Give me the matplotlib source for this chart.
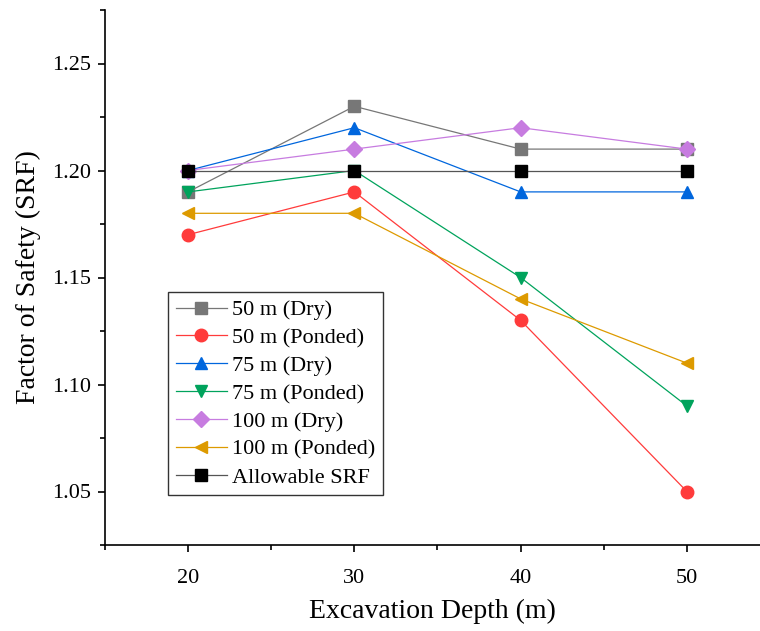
import matplotlib
matplotlib.use("Agg")
import matplotlib.pyplot as plt
from matplotlib.ticker import MultipleLocator, FormatStrFormatter

plt.rcParams['font.family'] = ['Liberation Serif', 'DejaVu Serif']

depth = [20, 30, 40, 50]
dry_50 = [1.19, 1.23, 1.21, 1.21]
ponded_50 = [1.17, 1.19, 1.13, 1.05]
dry_75 = [1.20, 1.22, 1.19, 1.19]
ponded_75 = [1.19, 1.20, 1.15, 1.09]
dry_100 = [1.20, 1.21, 1.22, 1.21]
ponded_100 = [1.18, 1.18, 1.14, 1.11]
allowable = [1.20, 1.20, 1.20, 1.20]

series = [
    ("50 m (Dry)", dry_50, "#777777", "s"),
    ("50 m (Ponded)", ponded_50, "#FF3B3B", "o"),
    ("75 m (Dry)", dry_75, "#0066DD", "^"),
    ("75 m (Ponded)", ponded_75, "#00A35C", "v"),
    ("100 m (Dry)", dry_100, "#C77CE0", "D"),
    ("100 m (Ponded)", ponded_100, "#DD9A00", "<"),
    ("Allowable SRF", allowable, "#000000", "s"),
]

fig = plt.figure(figsize=(7.6, 6.31), dpi=100)
ax = fig.add_axes([105/760, (631-545)/631, 1 - 105/760, (545-10)/631])

for label, vals, color, mk in series:
    ms = 9 if mk != "D" else 8
    lc = "#555555" if label == "Allowable SRF" else color
    ax.plot(depth, vals, color=lc, lw=0.9, marker=mk, markersize=ms,
            markerfacecolor=color, markeredgecolor=color, label=label)

ax.set_xlim(15, 54.4)
ax.set_ylim(1.025, 1.275)
ax.xaxis.set_minor_locator(MultipleLocator(5))
ax.yaxis.set_minor_locator(MultipleLocator(0.025))
ax.set_xticks([20, 30, 40, 50])
ax.set_yticks([1.05, 1.10, 1.15, 1.20, 1.25])
ax.yaxis.set_major_formatter(FormatStrFormatter('%.2f'))

for s in ("top", "right"):
    ax.spines[s].set_visible(False)
for s in ("left", "bottom"):
    ax.spines[s].set_linewidth(1.2)
ax.tick_params(which="major", direction="out", length=5, width=1.2, labelsize=16, pad=12)
ax.tick_params(which="minor", direction="out", length=3.5, width=1.2)
ax.tick_params(axis="y", which="major", pad=5)

ax.set_xlabel("Excavation Depth (m)", fontsize=20, labelpad=8)
ax.set_ylabel("Factor of Safety (SRF)", fontsize=20, labelpad=8)

leg = ax.legend(loc="upper left", bbox_to_anchor=((168-105)/655, (545-292)/535),
                fontsize=16, frameon=True, fancybox=False, edgecolor="black",
                handlelength=2.3, handletextpad=0.25, borderpad=0.35,
                labelspacing=0.33, borderaxespad=0)
leg.get_frame().set_linewidth(1.0)

fig.savefig("out.png", dpi=100)
